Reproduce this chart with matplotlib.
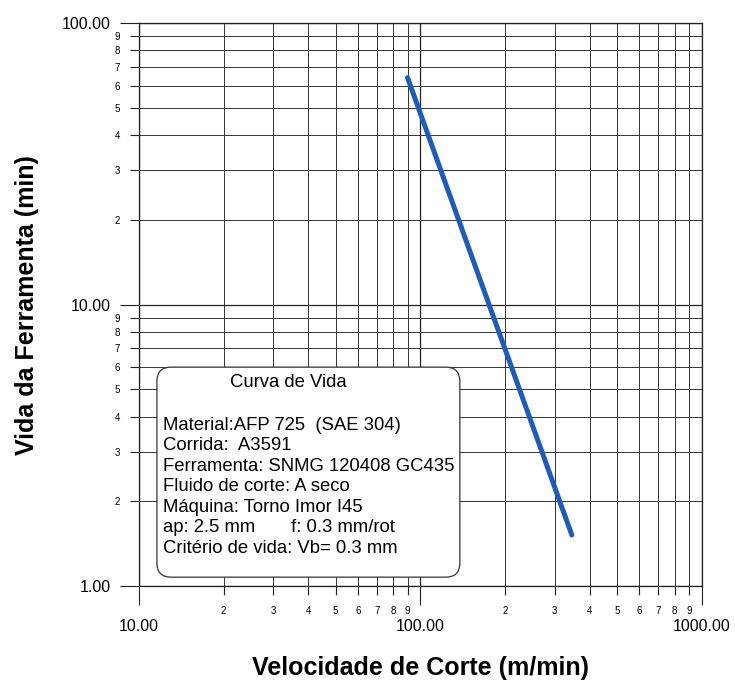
import matplotlib
matplotlib.use('Agg')
import matplotlib.pyplot as plt
from matplotlib.ticker import LogLocator, FuncFormatter
from matplotlib.patches import FancyBboxPatch
import numpy as np

# Dados da curva de vida (Taylor)
velocidade = [90, 345]      # m/min
vida = [64, 1.52]           # min

titulo_caixa = 'Curva de Vida'
linhas_caixa = [
    'Material:AFP 725  (SAE 304)',
    'Corrida:  A3591',
    'Ferramenta: SNMG 120408 GC435',
    'Fluido de corte: A seco',
    'Máquina: Torno Imor I45',
    'ap: 2.5 mm       f: 0.3 mm/rot',
    'Critério de vida: Vb= 0.3 mm',
]

plt.rcParams['font.family'] = ['Liberation Sans', 'DejaVu Sans']

fig = plt.figure(figsize=(7.35, 6.8), dpi=100)
ax = fig.add_axes([0.189, 0.138, 0.766, 0.828])

ax.set_xscale('log')
ax.set_yscale('log')
ax.set_xlim(10, 1000)
ax.set_ylim(1, 100)

# linha da curva
ax.plot(velocidade, vida, color='#1f5cb8', linewidth=3.6, solid_capstyle='round', zorder=3)

# ticks
fmt_maior = FuncFormatter(lambda v, p: '%.2f' % v)
def fmt_menor(v, p):
    m = v / 10 ** np.floor(np.log10(v) + 1e-9)
    return '%d' % round(m)

for eixo in (ax.xaxis, ax.yaxis):
    eixo.set_major_locator(LogLocator(base=10, numticks=10))
    eixo.set_minor_locator(LogLocator(base=10, subs=range(2, 10), numticks=10))
    eixo.set_major_formatter(fmt_maior)
    eixo.set_minor_formatter(FuncFormatter(fmt_menor))

ax.tick_params(which='major', direction='out', length=13.5, width=0.8, labelsize=11.5, color='#222222')
ax.tick_params(which='minor', direction='out', length=6.5, width=0.8, labelsize=7, color='#222222')
ax.tick_params(axis='y', which='major', pad=7)
ax.tick_params(axis='y', which='minor', pad=7)
ax.tick_params(axis='x', which='minor', pad=8)
ax.tick_params(axis='x', which='major', pad=10)

ax.grid(True, which='major', color='#222222', linewidth=0.9)
ax.grid(True, which='minor', color='#333333', linewidth=0.7)
for s in ax.spines.values():
    s.set_color('#222222')
    s.set_linewidth(0.9)

ax.set_xlabel('Velocidade de Corte (m/min)', fontsize=18, fontweight='bold', labelpad=16)
ax.set_ylabel('Vida da Ferramenta (min)', fontsize=18, fontweight='bold', labelpad=16)

# caixa de texto
caixa = FancyBboxPatch((0.032, 0.016), 0.538, 0.373,
                       boxstyle='round,pad=0,rounding_size=0.025',
                       transform=ax.transAxes, facecolor='white',
                       edgecolor='#333333', linewidth=0.9, zorder=4)
ax.add_patch(caixa)
ax.text(0.265, 0.361, titulo_caixa, transform=ax.transAxes, fontsize=13.3,
        ha='center', va='center', zorder=5)
for i, linha in enumerate(linhas_caixa):
    ax.text(0.043, 0.286 - i * 0.0364, linha, transform=ax.transAxes, fontsize=13.3,
            ha='left', va='center', zorder=5)

fig.savefig('out.png', dpi=100)
